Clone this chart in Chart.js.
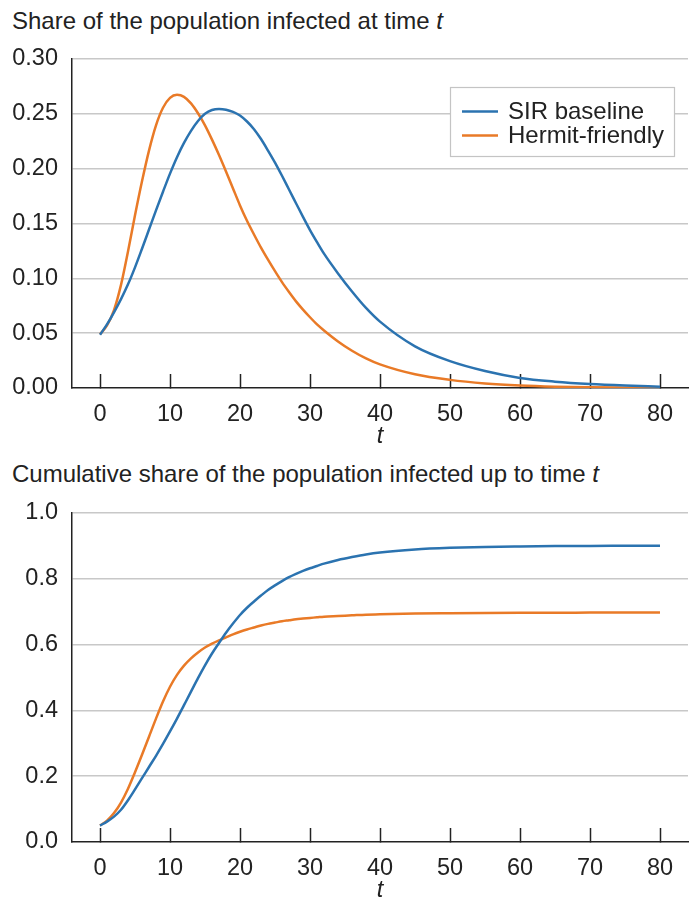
<!DOCTYPE html>
<html>
<head>
<meta charset="utf-8">
<script src="https://cdn.jsdelivr.net/npm/chart.js@4.4.0/dist/chart.umd.min.js"></script>
<style>
  html, body { margin: 0; padding: 0; background: #fff; width: 696px; height: 898px; overflow: hidden; }
  .title { position: absolute; left: 12px; font: 24px "Liberation Sans", Arial, sans-serif; line-height: 26px; color: #222; white-space: nowrap; }
  .box { position: absolute; left: 0; width: 696px; height: 420px; }
  canvas { display: block; }
</style>
</head>
<body>
<div class="title" style="top:8px">Share of the population infected at time <i>t</i></div>
<div class="box" style="top:40px"><canvas id="infected" width="696" height="420"></canvas></div>
<div class="title" style="top:461px">Cumulative share of the population infected up to time <i>t</i></div>
<div class="box" style="top:494px"><canvas id="cumulative" width="696" height="420"></canvas></div>

<script>
// data
const seriesNames = ['SIR baseline', 'Hermit-friendly'];
const tValues = [0, 1, 2, 3, 4, 5, 6, 7, 8, 9, 10, 11, 12, 13, 14, 15, 16, 17, 18, 19, 20,
                 21, 22, 23, 24, 25, 26, 27, 28, 29, 30, 31, 32, 34, 36, 38, 40,
                 45, 50, 55, 60, 65, 70, 75, 80];

// share infected at time t
const infectedSIR = [0.0485, 0.058, 0.069, 0.081, 0.0945, 0.110, 0.127, 0.1445, 0.162, 0.179, 0.1955,
                     0.2105, 0.2235, 0.2345, 0.2435, 0.2500, 0.2535, 0.2545, 0.2538, 0.2518, 0.2485,
                     0.2430, 0.2360, 0.2270, 0.2165, 0.2055, 0.1935, 0.181, 0.1685, 0.156, 0.1440,
                     0.1330, 0.1225, 0.1045, 0.088, 0.073, 0.0605,
                     0.038, 0.0245, 0.0155, 0.0092, 0.0058, 0.0036, 0.0022, 0.0012];
const infectedHermit = [0.049, 0.057, 0.071, 0.094, 0.1245, 0.1575, 0.1885, 0.2165, 0.2395, 0.2555, 0.2645,
                        0.2673, 0.2655, 0.2595, 0.2505, 0.2395, 0.2265, 0.2125, 0.1975, 0.182, 0.1665,
                        0.1525, 0.140, 0.128, 0.117, 0.1065, 0.0965, 0.0875, 0.079, 0.0715, 0.0645,
                        0.058, 0.0525, 0.0425, 0.034, 0.027, 0.0215,
                        0.0125, 0.0074, 0.0042, 0.0023, 0.0012, 0.0006, 0.0003, 0.0001];

// cumulative share infected up to time t
const cumulativeSIR = [0.05, 0.062, 0.077, 0.098, 0.127, 0.160, 0.194, 0.228, 0.262, 0.298, 0.336,
                       0.375, 0.416, 0.457, 0.498, 0.537, 0.573, 0.605, 0.636, 0.664, 0.690,
                       0.712, 0.731, 0.749, 0.766, 0.780, 0.793, 0.805, 0.815, 0.824, 0.832,
                       0.839, 0.846, 0.857, 0.866, 0.874, 0.880,
                       0.889, 0.894, 0.897, 0.8985, 0.8995, 0.9, 0.9003, 0.9005];
const cumulativeHermit = [0.05, 0.065, 0.088, 0.120, 0.162, 0.212, 0.265, 0.320, 0.375, 0.427, 0.472,
                          0.508, 0.536, 0.558, 0.576, 0.591, 0.603, 0.613, 0.622, 0.631, 0.639,
                          0.646, 0.652, 0.658, 0.663, 0.667, 0.671, 0.674, 0.677, 0.679, 0.681,
                          0.683, 0.685, 0.687, 0.689, 0.691, 0.692,
                          0.6945, 0.6955, 0.6962, 0.6967, 0.697, 0.6972, 0.6973, 0.6974];

const xTickValues = [0, 10, 20, 30, 40, 50, 60, 70, 80];
const infectedYTicks = [0, 0.05, 0.10, 0.15, 0.20, 0.25, 0.30];
const cumulativeYTicks = [0, 0.2, 0.4, 0.6, 0.8, 1.0];

const BLUE = '#2b73b0';
const ORANGE = '#e97a27';
const FONT = '"Liberation Sans", Arial, sans-serif';
const INK = '#222';

Chart.defaults.font.family = FONT;
Chart.defaults.color = INK;

// legend drawn as a boxed panel inside the plot (top right)
const legendBox = {
    id: 'legendBox',
    afterDatasetsDraw(chart) {
        const ctx = chart.ctx;
        ctx.save();
        ctx.fillStyle = '#fff';
        ctx.fillRect(450, 47, 224, 69);
        ctx.strokeStyle = '#c4c4c4';
        ctx.lineWidth = 1.2;
        ctx.strokeRect(450.5, 47.5, 224, 69);
        chart.data.datasets.forEach((ds, i) => {
            const y = 71.5 + i * 24;
            ctx.strokeStyle = ds.borderColor;
            ctx.lineWidth = 2.5;
            ctx.beginPath();
            ctx.moveTo(462, y);
            ctx.lineTo(498, y);
            ctx.stroke();
            ctx.fillStyle = INK;
            ctx.font = '24px ' + FONT;
            ctx.textBaseline = 'middle';
            ctx.fillText(ds.label, 508, y + 1);
        });
        ctx.restore();
    }
};

function makeChart(id, sir, hermit, yTicks, decimals, withLegend) {
    return new Chart(document.getElementById(id), {
        type: 'line',
        data: {
            datasets: [
                {
                    label: seriesNames[0],
                    data: tValues.map((t, i) => ({ x: t, y: sir[i] })),
                    borderColor: BLUE,
                    backgroundColor: BLUE,
                    borderWidth: 2.5,
                    pointRadius: 0,
                    cubicInterpolationMode: 'monotone'
                },
                {
                    label: seriesNames[1],
                    data: tValues.map((t, i) => ({ x: t, y: hermit[i] })),
                    borderColor: ORANGE,
                    backgroundColor: ORANGE,
                    borderWidth: 2.5,
                    pointRadius: 0,
                    cubicInterpolationMode: 'monotone'
                }
            ]
        },
        options: {
            responsive: false,
            animation: false,
            layout: { padding: { top: 19, right: 8, bottom: 9, left: 0 } },
            plugins: {
                legend: { display: false },
                tooltip: { enabled: false }
            },
            scales: {
                x: {
                    type: 'linear',
                    min: -4,
                    max: 84,
                    afterBuildTicks: s => { s.ticks = xTickValues.map(v => ({ value: v })); },
                    afterFit: s => { s.height = 63; s.paddingLeft = 0; s.paddingRight = 0; },
                    grid: {
                        drawOnChartArea: false,
                        drawTicks: true,
                        tickLength: -14,
                        tickColor: INK,
                        tickWidth: 1.5
                    },
                    border: { color: INK, width: 1.5 },
                    ticks: {
                        padding: 26,
                        color: INK,
                        maxRotation: 0,
                        font: { size: 23.5 }
                    },
                    title: {
                        display: true,
                        text: 't',
                        color: INK,
                        padding: 0,
                        font: { size: 23.5, style: 'italic' }
                    }
                },
                y: {
                    min: yTicks[0],
                    max: yTicks[yTicks.length - 1],
                    afterBuildTicks: s => { s.ticks = yTicks.map(v => ({ value: v })); },
                    afterFit: s => { s.width = 72; s.paddingTop = 0; s.paddingBottom = 0; },
                    grid: {
                        color: ctx => (ctx.tick && ctx.tick.value === 0) ? 'rgba(0,0,0,0)' : '#c8c8c8',
                        lineWidth: 1.5,
                        drawTicks: false
                    },
                    border: { color: INK, width: 1.5 },
                    ticks: {
                        padding: 14,
                        color: INK,
                        font: { size: 23.5 },
                        callback: v => v.toFixed(decimals)
                    }
                }
            }
        },
        plugins: withLegend ? [legendBox] : []
    });
}

makeChart('infected', infectedSIR, infectedHermit, infectedYTicks, 2, true);
makeChart('cumulative', cumulativeSIR, cumulativeHermit, cumulativeYTicks, 1, false);
</script>
</body>
</html>
